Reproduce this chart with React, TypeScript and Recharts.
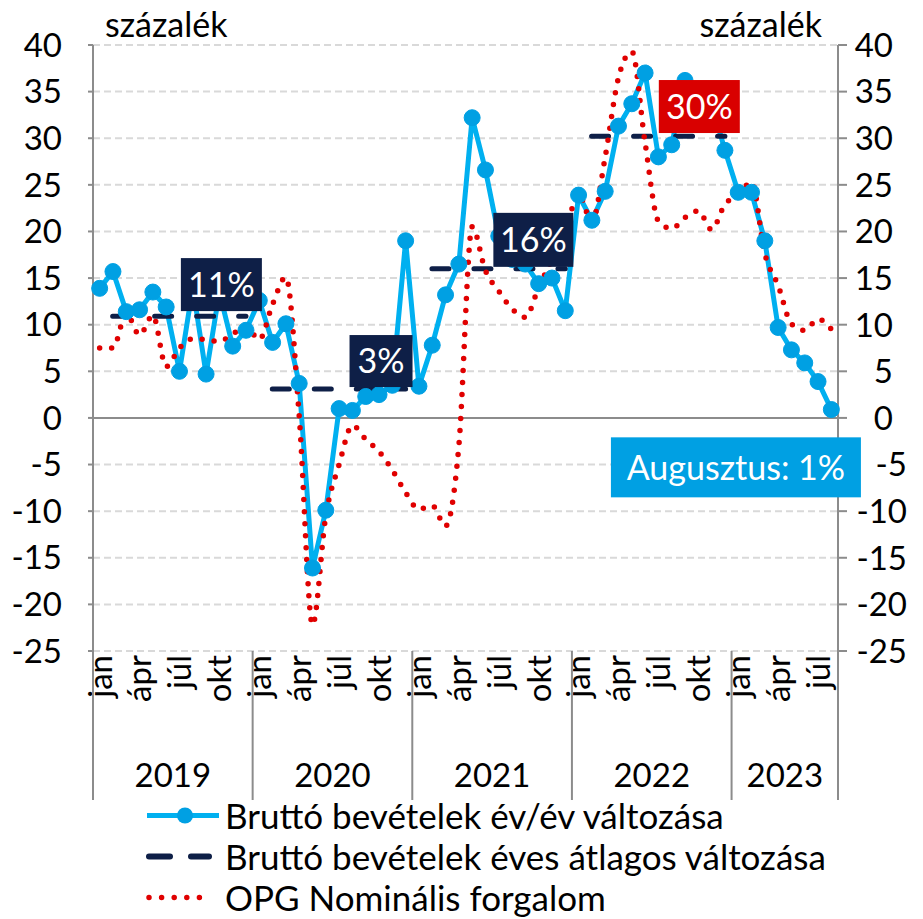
import { CartesianGrid, Line, LineChart, ReferenceDot, ReferenceLine, XAxis, YAxis } from 'recharts';

const MONTHS = ['jan', 'feb', 'márc', 'ápr', 'máj', 'jún', 'júl', 'aug', 'szept', 'okt', 'nov', 'dec'];
const LABELED_MONTHS = ['jan', 'ápr', 'júl', 'okt'];
const YEARS = [2019, 2020, 2021, 2022, 2023];
const MONTHS_PER_YEAR = [12, 12, 12, 12, 8];

// Bruttó bevételek év/év változása (%)
const BRUTTO_YOY = [
  13.9, 15.7, 11.4, 11.6, 13.5, 11.9, 5.0, 14.0, 4.7, 13.5, 7.7, 9.4,
  12.6, 8.1, 10.1, 3.7, -16.1, -9.9, 1.0, 0.8, 2.3, 2.5, 3.5, 19.0,
  3.4, 7.8, 13.2, 16.5, 32.2, 26.6, 19.5, 17.0, 16.5, 14.4, 15.0, 11.5,
  23.9, 21.2, 24.3, 31.3, 33.7, 37.0, 28.0, 29.3, 36.2, 35.0, 33.8, 28.7,
  24.2, 24.2, 19.0, 9.7, 7.3, 5.9, 3.9, 0.9,
];

// OPG Nominális forgalom (%)
const OPG_NOMINAL = [
  7.5, 7.5, 11.2, 8.9, 11.0, 5.5, 7.5, 8.5, 8.4, 8.2, 9.0, 9.8,
  8.4, 12.2, 15.1, 0.2, -22.2, -10.5, -5.0, -0.8, -2.3, -3.6, -5.6, -8.0,
  -9.8, -9.4, -11.6, -3.0, 20.5, 15.8, 13.6, 11.7, 10.8, 14.0, 17.0, 20.0,
  24.0, 21.0, 28.0, 36.5, 39.3, 29.5, 21.1, 20.3, 21.5, 22.2, 20.2, 22.9,
  23.9, 25.3, 17.6, 14.2, 10.1, 9.4, 10.6, 9.5,
];

// Bruttó bevételek éves átlagos változása (2019-2022)
const ANNUAL_AVG = [10.9, 3.1, 16.0, 30.2];

const Y_TICKS = [-25, -20, -15, -10, -5, 0, 5, 10, 15, 20, 25, 30, 35, 40];

const LEGEND_ITEMS = [
  'Bruttó bevételek év/év változása',
  'Bruttó bevételek éves átlagos változása',
  'OPG Nominális forgalom',
];

const BLUE_LINE = '#00b0f0';
const BLUE_DOT = '#00a0e3';
const NAVY = '#0e1f47';
const RED = '#e00000';
const RED_BOX = '#d90000';
const AXIS = '#8c8c8c';
const GRID = '#d9d9d9';
const FONT = 'Lato, "Open Sans", sans-serif';

const W = 923;
const CHART_H = 806;
const LEFT_W = 93;
const RIGHT_W = 85;
const X_AXIS_H = 155;
const N = BRUTTO_YOY.length;
const BAND = (W - LEFT_W - RIGHT_W) / N;

const data: Record<string, any>[] = [];
{
  let i = 0;
  YEARS.forEach((year, yi) => {
    for (let m = 0; m < MONTHS_PER_YEAR[yi]; m++) {
      const row: Record<string, any> = {
        key: `${year}-${m}`,
        yoy: BRUTTO_YOY[i],
        opg: OPG_NOMINAL[i],
      };
      ANNUAL_AVG.forEach((v, ai) => {
        row[`avg${ai}`] = ai === yi ? v : null;
      });
      data.push(row);
      i++;
    }
  });
}

const lastKey = data[data.length - 1].key;
const lastYoY = BRUTTO_YOY[BRUTTO_YOY.length - 1];

const annotations = [
  { text: `${Math.round(ANNUAL_AVG[0])}%`, at: '2019-9', value: 14.3, dx: 2, w: 81, h: 53, fill: NAVY },
  { text: `${Math.round(ANNUAL_AVG[1])}%`, at: '2020-9', value: 6.1, dx: 2, w: 63, h: 52, fill: NAVY },
  { text: `${Math.round(ANNUAL_AVG[2])}%`, at: '2021-8', value: 19.1, dx: 8, w: 80, h: 54, fill: NAVY },
  { text: `${Math.round(ANNUAL_AVG[3])}%`, at: '2022-9', value: 33.4, dx: 1, w: 81, h: 53, fill: RED_BOX },
  { text: `Augusztus: ${Math.round(lastYoY)}%`, at: '2022-11', value: -5.3, dx: 11, w: 250, h: 60, fill: BLUE_DOT },
];

function MonthTick(props: any) {
  const { x, y, payload } = props;
  const [yearStr, mStr] = String(payload.value).split('-');
  const year = Number(yearStr);
  const m = Number(mStr);
  const yi = YEARS.indexOf(year);
  const label = MONTHS[m];
  return (
    <g>
      {LABELED_MONTHS.includes(label) && (
        <text
          x={0}
          y={0}
          transform={`translate(${x},${y + 4}) rotate(-90)`}
          textAnchor="end"
          dy="0.36em"
          fontSize={33}
          fontFamily={FONT}
          fill="#000"
        >
          {label}
        </text>
      )}
      {m === 0 && (
        <>
          <line x1={x - BAND / 2} x2={x - BAND / 2} y1={y} y2={y + 149} stroke={AXIS} strokeWidth={2} />
          <text
            x={x + (BAND * (MONTHS_PER_YEAR[yi] - 1)) / 2}
            y={y + 136}
            textAnchor="middle"
            fontSize={33}
            fontFamily={FONT}
            fill="#000"
          >
            {year}
          </text>
        </>
      )}
      {payload.value === lastKey && (
        <line x1={x + BAND / 2} x2={x + BAND / 2} y1={y} y2={y + 149} stroke={AXIS} strokeWidth={2} />
      )}
    </g>
  );
}

function RightTick(props: any) {
  const { x, y, payload } = props;
  const v = Number(payload.value);
  // positives keep a trailing space like the Excel number format
  const endX = x + (v < 0 ? 56 : 42);
  return (
    <text x={endX} y={y} dy="0.36em" textAnchor="end" fontSize={33} fontFamily={FONT} fill="#000">
      {v}
    </text>
  );
}

function AnnotationBox({ cx, cy, a }: any) {
  if (cx == null || cy == null) return null;
  const x = cx + a.dx;
  return (
    <g>
      <rect x={x - a.w / 2} y={cy - a.h / 2} width={a.w} height={a.h} fill={a.fill} />
      <text
        x={x}
        y={cy}
        dy="0.36em"
        textAnchor="middle"
        fontSize={34}
        fontFamily={FONT}
        fill="#fff"
      >
        {a.text}
      </text>
    </g>
  );
}

function LegendIcon({ index }: { index: number }) {
  if (index === 0) {
    return (
      <svg width={76} height={41}>
        <line x1={2} x2={74} y1={20.5} y2={20.5} stroke={BLUE_LINE} strokeWidth={5} />
        <circle cx={40} cy={20.5} r={8} fill={BLUE_DOT} />
      </svg>
    );
  }
  if (index === 1) {
    return (
      <svg width={76} height={41}>
        <line x1={4} x2={25} y1={20.5} y2={20.5} stroke={NAVY} strokeWidth={6} strokeLinecap="round" />
        <line x1={46} x2={64} y1={20.5} y2={20.5} stroke={NAVY} strokeWidth={6} strokeLinecap="round" />
      </svg>
    );
  }
  return (
    <svg width={76} height={41}>
      <line
        x1={4}
        x2={67}
        y1={20.5}
        y2={20.5}
        stroke={RED}
        strokeWidth={5.5}
        strokeLinecap="round"
        strokeDasharray="0 12.6"
      />
    </svg>
  );
}

export default function App() {
  return (
    <div style={{ position: 'relative', width: W, height: 919, fontFamily: FONT, background: '#fff' }}>
      <style>{'body{margin:0}'}</style>
      <LineChart width={W} height={CHART_H} data={data} margin={{ top: 45, right: 0, bottom: 0, left: 0 }}>
        <CartesianGrid vertical={false} stroke={GRID} strokeWidth={2} strokeDasharray="7 4" />
        <XAxis
          dataKey="key"
          interval={0}
          height={X_AXIS_H}
          padding={{ left: BAND / 2, right: BAND / 2 }}
          axisLine={false}
          tickLine={false}
          tickSize={0}
          tickMargin={0}
          tick={(p: any) => <MonthTick {...p} />}
        />
        <YAxis
          width={LEFT_W}
          domain={[-25, 40]}
          ticks={Y_TICKS}
          interval={0}
          allowDataOverflow
          axisLine={{ stroke: AXIS, strokeWidth: 2 }}
          tickLine={{ stroke: AXIS, strokeWidth: 2 }}
          tickSize={5}
          tickMargin={26}
          tick={{ fontSize: 33, fontFamily: FONT, fill: '#000' }}
        />
        <YAxis
          yAxisId="r"
          orientation="right"
          width={RIGHT_W}
          domain={[-25, 40]}
          ticks={Y_TICKS}
          interval={0}
          allowDataOverflow
          axisLine={{ stroke: AXIS, strokeWidth: 2 }}
          tickLine={{ stroke: AXIS, strokeWidth: 2 }}
          tickSize={9}
          tickMargin={4}
          tick={(p: any) => <RightTick {...p} />}
        />
        <ReferenceLine y={0} stroke={AXIS} strokeWidth={2} />
        <Line
          dataKey="yoy"
          type="linear"
          stroke={BLUE_LINE}
          strokeWidth={5}
          dot={{ r: 8, fill: BLUE_DOT, stroke: BLUE_DOT, strokeWidth: 1 }}
          activeDot={false}
          isAnimationActive={false}
        />
        {ANNUAL_AVG.map((_, i) => (
          <Line
            key={i}
            dataKey={`avg${i}`}
            type="linear"
            stroke={NAVY}
            strokeWidth={5}
            strokeLinecap="round"
            strokeDasharray="17 25"
            strokeDashoffset={29}
            dot={false}
            activeDot={false}
            connectNulls={false}
            isAnimationActive={false}
          />
        ))}
        <Line
          dataKey="opg"
          type="monotone"
          stroke={RED}
          strokeWidth={5.5}
          strokeLinecap="round"
          strokeDasharray="0 12"
          dot={false}
          activeDot={false}
          isAnimationActive={false}
        />
        {annotations.map((a) => (
          <ReferenceDot
            key={a.text}
            x={a.at}
            y={a.value}
            r={0}
            ifOverflow="visible"
            shape={(p: any) => <AnnotationBox {...p} a={a} />}
          />
        ))}
      </LineChart>
      <svg width={W} height={45} style={{ position: 'absolute', left: 0, top: 0 }}>
        <text x={105} y={37} fontSize={34} fontFamily={FONT} fill="#000">
          százalék
        </text>
        <text x={822} y={37} fontSize={34} fontFamily={FONT} fill="#000" textAnchor="end">
          százalék
        </text>
      </svg>
      <div style={{ position: 'absolute', left: 145, top: 795 }}>
        {LEGEND_ITEMS.map((name, i) => (
          <div key={name} style={{ display: 'flex', alignItems: 'center', height: 41 }}>
            <LegendIcon index={i} />
            <span style={{ fontSize: 35, lineHeight: '41px', color: '#000', marginLeft: 4 }}>{name}</span>
          </div>
        ))}
      </div>
    </div>
  );
}
